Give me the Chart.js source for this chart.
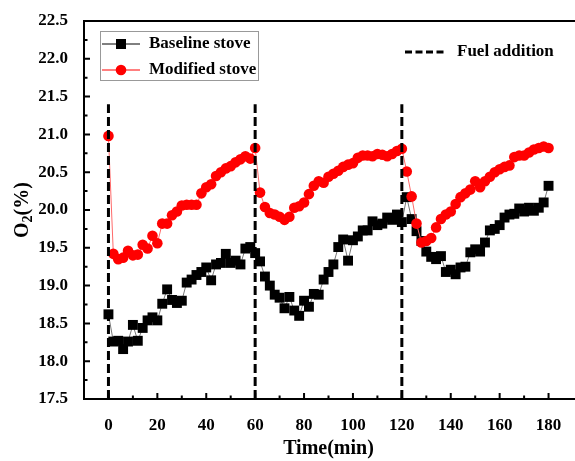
<!DOCTYPE html>
<html>
<head>
<meta charset="utf-8">
<script src="https://cdn.jsdelivr.net/npm/chart.js@4"></script>
<style>
  body { margin: 0; overflow: hidden; background: #fff; }
</style>
</head>
<body>
<canvas id="chart" width="580" height="461"></canvas>
<script>
// time axis: one reading every 2 min
const times = Array.from({ length: 91 }, (_, i) => i * 2);
const xTicks = [0, 20, 40, 60, 80, 100, 120, 140, 160, 180];
const fuelTimes = [0, 60, 120];
const fuelTop = 21.4;

const baseline = [
  18.62, 18.26, 18.27, 18.16, 18.26, 18.48, 18.27, 18.44, 18.54, 18.58,
  18.54, 18.76, 18.95, 18.81, 18.77, 18.80, 19.04, 19.08, 19.14, 19.18,
  19.24, 19.07, 19.28, 19.30, 19.42, 19.30, 19.33, 19.28, 19.49, 19.51,
  19.43, 19.32, 19.12, 19.00, 18.88, 18.84, 18.70, 18.85, 18.67, 18.60,
  18.80, 18.72, 18.89, 18.88, 19.08, 19.18, 19.28, 19.51, 19.61, 19.33,
  19.60, 19.65, 19.73, 19.73, 19.85, 19.80, 19.82, 19.90, 19.87, 19.94,
  19.84, 20.17, 19.88, 19.72, 19.59, 19.45, 19.38, 19.35, 19.39, 19.18,
  19.21, 19.15, 19.24, 19.25, 19.44, 19.48, 19.45, 19.57, 19.73, 19.75,
  19.80, 19.90, 19.94, 19.95, 20.02, 19.98, 20.03, 19.99, 20.03, 20.10,
  20.32
];

const modified = [
  20.98, 19.42, 19.35, 19.37, 19.46, 19.40, 19.41, 19.54, 19.49, 19.66,
  19.56, 19.82, 19.82, 19.93, 19.98, 20.06, 20.07, 20.07, 20.07, 20.22,
  20.30, 20.34, 20.45, 20.50, 20.55, 20.58, 20.63, 20.67, 20.71, 20.68,
  20.82, 20.23, 20.04, 19.96, 19.94, 19.91, 19.87, 19.91, 20.03, 20.05,
  20.10, 20.21, 20.32, 20.38, 20.36, 20.44, 20.48, 20.52, 20.57, 20.60,
  20.62, 20.69, 20.72, 20.72, 20.71, 20.74, 20.73, 20.71, 20.74, 20.78,
  20.81, 20.51, 20.18, 19.82, 19.57, 19.59, 19.63, 19.77, 19.88, 19.94,
  19.98, 20.08, 20.17, 20.22, 20.27, 20.38, 20.30, 20.38, 20.44, 20.50,
  20.54, 20.57, 20.59, 20.70, 20.72, 20.72, 20.76, 20.80, 20.82, 20.84,
  20.82
];

const FONT = "'Liberation Serif', 'Times New Roman', serif";

// vertical dashed lines where fuel was added
const fuelSets = fuelTimes.map(t => ({
  label: 'Fuel addition',
  data: [{ x: t, y: 17.5 }, { x: t, y: fuelTop }],
  borderColor: '#000',
  borderWidth: 3,
  borderDash: [9, 4],
  pointRadius: 0,
  order: 0
}));

/* frame, ticks, y title and legends */
const decor = {
  id: 'decor',
  afterDraw(c) {
    const ctx = c.ctx, a = c.chartArea, x = c.scales.x, y = c.scales.y;
    ctx.save();
    ctx.strokeStyle = '#000';
    ctx.lineWidth = 2;
    ctx.beginPath();
    ctx.moveTo(a.right + 4, a.top);
    ctx.lineTo(a.left, a.top);
    ctx.lineTo(a.left, a.bottom);
    ctx.lineTo(a.right + 4, a.bottom);
    ctx.stroke();

    ctx.beginPath();
    for (let i = 0; i <= 20; i++) {
      const py = y.getPixelForValue(17.5 + i * 0.25);
      ctx.moveTo(a.left, py);
      ctx.lineTo(a.left + (i % 2 === 0 ? 6 : 3.5), py);
    }
    for (let t = 0; t <= 180; t += 10) {
      const px = x.getPixelForValue(t);
      ctx.moveTo(px, a.bottom);
      ctx.lineTo(px, a.bottom - (t % 20 === 0 ? 6 : 3.5));
    }
    ctx.stroke();

    // y title O2(%)
    ctx.fillStyle = '#000';
    ctx.translate(23, (a.top + a.bottom) / 2);
    ctx.rotate(-Math.PI / 2);
    ctx.textBaseline = 'middle';
    ctx.textAlign = 'left';
    const big = 'bold 20px ' + FONT, small = 'bold 14px ' + FONT;
    ctx.font = big;
    const wO = ctx.measureText('O').width, wP = ctx.measureText('(%)').width;
    ctx.font = small;
    const w2 = ctx.measureText('2').width;
    let sx = -(wO + w2 + wP) / 2;
    ctx.font = big;
    ctx.fillText('O', sx, 0);
    ctx.font = small;
    ctx.fillText('2', sx + wO, 5);
    ctx.font = big;
    ctx.fillText('(%)', sx + wO + w2, 0);
    ctx.setTransform(1, 0, 0, 1, 0, 0);

    // legend box
    ctx.strokeStyle = '#999';
    ctx.lineWidth = 1;
    ctx.strokeRect(100.5, 31.5, 158, 49);
    ctx.font = 'bold 17px ' + FONT;
    ctx.textBaseline = 'middle';

    ctx.strokeStyle = '#000';
    ctx.beginPath(); ctx.moveTo(102, 44); ctx.lineTo(140, 44); ctx.stroke();
    ctx.fillStyle = '#000';
    ctx.fillRect(116, 39, 10, 10);
    ctx.fillText('Baseline stove', 149, 44);

    ctx.strokeStyle = '#f00';
    ctx.beginPath(); ctx.moveTo(102, 70); ctx.lineTo(140, 70); ctx.stroke();
    ctx.fillStyle = '#f00';
    ctx.beginPath(); ctx.arc(121, 70, 5.3, 0, Math.PI * 2); ctx.fill();
    ctx.fillStyle = '#000';
    ctx.fillText('Modified stove', 149, 70);

    // fuel legend
    ctx.strokeStyle = '#000';
    ctx.lineWidth = 3;
    ctx.setLineDash([7, 3.5]);
    ctx.beginPath(); ctx.moveTo(405, 52); ctx.lineTo(445, 52); ctx.stroke();
    ctx.setLineDash([]);
    ctx.fillText('Fuel addition', 457, 52);
    ctx.restore();
  }
};

chart = new Chart(document.getElementById('chart'), {
  type: 'line',
  data: {
    datasets: [
      ...fuelSets,
      {
        label: 'Modified stove',
        data: times.map((t, i) => ({ x: t, y: modified[i] })),
        borderColor: '#ff6a6a',
        borderWidth: 1,
        backgroundColor: '#ff0000',
        pointStyle: 'circle',
        pointRadius: 5.3,
        pointBorderWidth: 0,
        tension: 0,
        order: 1
      },
      {
        label: 'Baseline stove',
        data: times.map((t, i) => ({ x: t, y: baseline[i] })),
        borderColor: '#777',
        borderWidth: 1,
        backgroundColor: '#000',
        pointStyle: 'rect',
        pointRadius: 7,
        pointBorderWidth: 0,
        tension: 0,
        order: 2
      }
    ]
  },
  options: {
    responsive: false,
    animation: false,
    layout: { padding: { left: 0, top: 21, right: 4, bottom: 0 } },
    plugins: { legend: { display: false }, tooltip: { enabled: false } },
    scales: {
      x: {
        type: 'linear',
        min: -10,
        max: 190,
        afterBuildTicks: s => { s.ticks = xTicks.map(v => ({ value: v })); },
        afterFit: s => { s.height = 62; s.paddingLeft = 0; s.paddingRight = 0; },
        grid: { display: false },
        border: { display: false },
        ticks: { color: '#000', padding: 8, font: { family: FONT, size: 17, weight: 'bold' } },
        title: {
          display: true,
          text: 'Time(min)',
          color: '#000',
          padding: { top: 0, bottom: 0 },
          font: { family: FONT, size: 20, weight: 'bold' }
        }
      },
      y: {
        min: 17.5,
        max: 22.5,
        afterFit: s => { s.width = 84; s.paddingTop = 0; s.paddingBottom = 0; },
        grid: { display: false },
        border: { display: false },
        ticks: {
          stepSize: 0.5,
          color: '#000',
          padding: 8,
          font: { family: FONT, size: 17, weight: 'bold' },
          callback: v => v.toFixed(1)
        }
      }
    }
  },
  plugins: [decor]
});
</script>
</body>
</html>
